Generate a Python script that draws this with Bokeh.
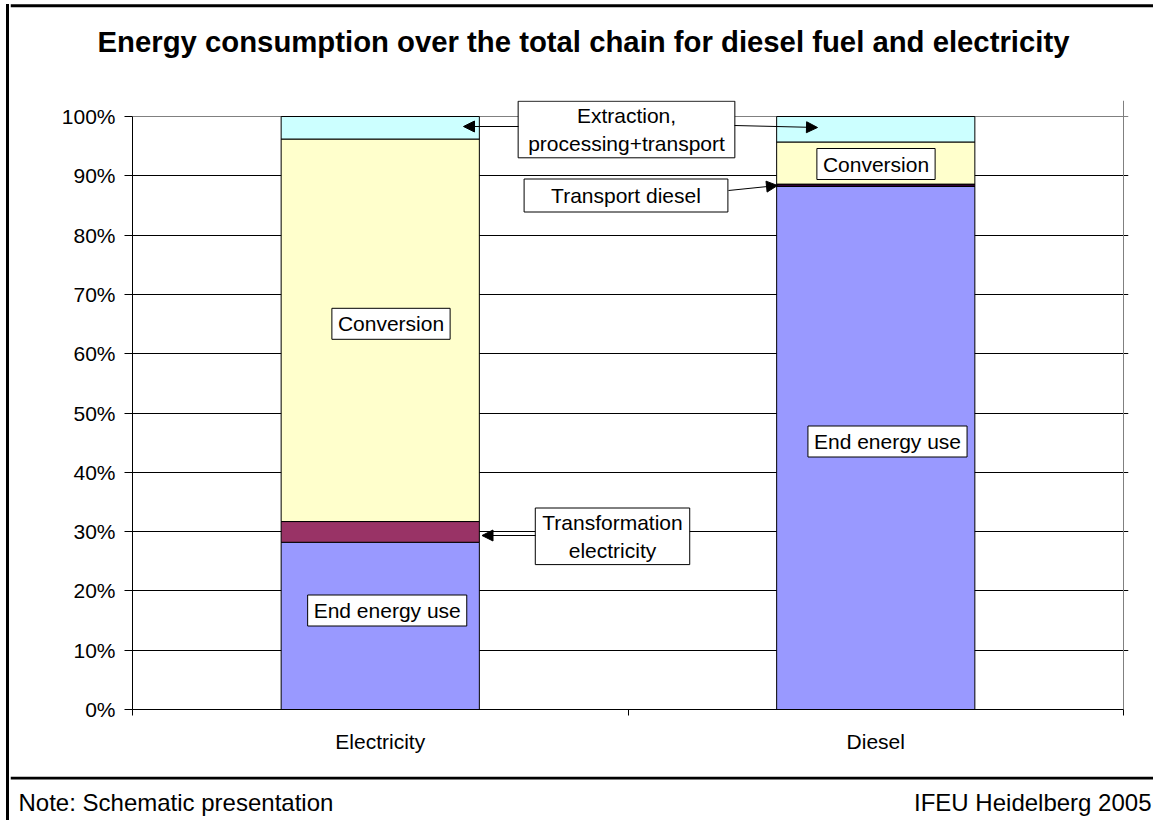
from bokeh.plotting import figure
from bokeh.layouts import column, row
from bokeh.models import (ColumnDataSource, Range1d, LinearAxis, FixedTicker, PrintfTickFormatter,
                          CustomJSTickFormatter, Grid, Label, Arrow, NormalHead, Span, Div)
from bokeh.embed import file_html
from bokeh.resources import INLINE

# ---------------- data ----------------
categories = ["Electricity", "Diesel"]
end_energy_use = [28.2, 88.2]
transformation_electricity = [3.5, 0.0]
transport_diesel = [0.0, 0.4]
conversion = [64.5, 7.1]
extraction_processing_transport = [3.8, 4.3]
y_ticks = list(range(0, 101, 10))

series = ["end_energy_use", "transformation_electricity", "transport_diesel",
          "conversion", "extraction_processing_transport"]
colors = ["#9999FF", "#993366", "#330033", "#FFFFCC", "#CCFFFF"]

title_text = "Energy consumption over the total chain for diesel fuel and electricity"
note_text = "Note: Schematic presentation"
source_text = "IFEU Heidelberg 2005"

n = len(categories)
centers = [i + 0.5 for i in range(n)]
bounds = list(range(n + 1))

source = ColumnDataSource(dict(
    x=centers,
    end_energy_use=end_energy_use,
    transformation_electricity=transformation_electricity,
    transport_diesel=transport_diesel,
    conversion=conversion,
    extraction_processing_transport=extraction_processing_transport,
))

FONT = "Liberation Sans"
PAGE_W, PAGE_H = 1153, 820

# page geometry
LEFT = 10               # left border bar (6px margin + 3px line + 1px gap)
HEADER_H = 100          # header (title, top border)
MAIN_BOTTOM = 776       # separator line between chart and footer
FOOTER_H = 43
FL, FR, FT, FB = 132, 1123, 116, 709   # plot area (0..n, 0..100%) in page pixels
FRAME_R = 1128          # drawn frame right edge (a bit beyond the plot area)
CONTENT_W = PAGE_W - LEFT

def X(px):
    return (px - FL) / (FR - FL) * n

def Y(py):
    return (FB - py) / (FB - FT) * 100.0

BORDER_W = 3

# ---------------- left border ----------------
left_bar = Div(text="", width=BORDER_W, height=PAGE_H - 4, margin=(4, 1, 0, 6),
               styles={"background-color": "black"})

# ---------------- header ----------------
header = figure(width=CONTENT_W, height=HEADER_H, x_range=Range1d(LEFT, PAGE_W), y_range=Range1d(HEADER_H, 0),
                x_axis_type=None, y_axis_type=None, output_backend="svg", toolbar_location=None,
                min_border=0, title=None)
header.outline_line_color = None
header.add_layout(Span(location=5.3, dimension="width", line_color="black", line_width=BORDER_W))
header.add_layout(Label(x=583, y=41, text=title_text, text_align="center", text_baseline="middle",
                        text_font=FONT, text_font_size="29.3px", text_font_style="bold", text_color="black"))

# ---------------- main chart ----------------
main_h = MAIN_BOTTOM - HEADER_H
p = figure(width=CONTENT_W, height=main_h,
           x_range=Range1d(0, X(FRAME_R)), y_range=Range1d(0, Y(HEADER_H)),
           x_axis_type=None, y_axis_type=None, output_backend="svg",
           toolbar_location=None, title=None,
           min_border_left=FL - LEFT, min_border_right=PAGE_W - FRAME_R,
           min_border_top=0, min_border_bottom=MAIN_BOTTOM - FB)
p.background_fill_color = "white"
p.border_fill_color = "white"
p.outline_line_color = None

yaxis = LinearAxis(ticker=FixedTicker(ticks=y_ticks), formatter=PrintfTickFormatter(format="%d%%"),
                   bounds=(0, 100))
yaxis.major_tick_out = 8
yaxis.major_tick_in = 0
yaxis.minor_tick_out = 0
yaxis.minor_tick_in = 0
yaxis.major_label_standoff = 9
yaxis.major_label_text_font = FONT
yaxis.major_label_text_font_size = "21px"
yaxis.major_label_text_color = "black"
yaxis.axis_line_color = "black"
yaxis.major_tick_line_color = "black"
p.add_layout(yaxis, "left")

xaxis = LinearAxis(ticker=FixedTicker(ticks=centers, minor_ticks=bounds),
                   formatter=CustomJSTickFormatter(args=dict(labels=categories),
                                                   code="return labels[Math.floor(tick)]"),
                   bounds=(0, n))
xaxis.major_tick_out = 0
xaxis.major_tick_in = 0
xaxis.minor_tick_out = 6
xaxis.minor_tick_in = 0
xaxis.minor_tick_line_color = "black"
xaxis.major_label_standoff = 14
xaxis.major_label_text_font = FONT
xaxis.major_label_text_font_size = "21px"
xaxis.major_label_text_color = "black"
xaxis.axis_line_color = "black"
p.add_layout(xaxis, "below")

p.add_layout(Grid(dimension=1, ticker=FixedTicker(ticks=y_ticks[1:-1]), bounds=(0, n),
                  grid_line_color="black", grid_line_width=1))
p.add_layout(Grid(dimension=1, ticker=FixedTicker(ticks=[y_ticks[-1]]), bounds=(0, n),
                  grid_line_color="#808080", grid_line_width=1))
p.add_layout(Grid(dimension=0, ticker=FixedTicker(ticks=[n]), bounds=(0, y_ticks[-1]),
                  grid_line_color="#808080", grid_line_width=1))

p.vbar_stack(series, x="x", width=0.4, source=source, fill_color=colors,
             line_color="black", line_width=1)

def box(text, cx, cy, pad):
    p.add_layout(Label(x=X(cx), y=Y(cy), text=text, text_align="center", text_baseline="middle",
                       text_font=FONT, text_font_size="21px", text_color="black",
                       background_fill_color="white", border_line_color="black",
                       border_line_width=1, padding=pad))

box("Extraction,\nprocessing+transport", 626, 129, (10, 3))
box("Transport diesel", 625.5, 195, (27, 5))
box("Conversion", 875.5, 163.5, (6, 4))
box("Conversion", 390.5, 323.3, (6, 4))
box("Transformation\nelectricity", 612, 535.8, (7, 3))
box("End energy use", 386.7, 610, (6, 4))
box("End energy use", 887, 441, (6, 4))

def arrow(x0, y0, x1, y1):
    p.add_layout(Arrow(x_start=X(x0), y_start=Y(y0), x_end=X(x1), y_end=Y(y1),
                       line_color="black", line_width=1,
                       end=NormalHead(size=11, fill_color="black", line_color="black")))

arrow(518, 126, 463, 126)
arrow(734, 125, 817, 127)
arrow(728, 190, 777, 185)
arrow(535, 535, 481.5, 535)

# ---------------- footer ----------------
footer = figure(width=CONTENT_W, height=FOOTER_H, x_range=Range1d(LEFT, PAGE_W), y_range=Range1d(FOOTER_H, 0),
                x_axis_type=None, y_axis_type=None, output_backend="svg", toolbar_location=None,
                min_border=0, title=None)
footer.outline_line_color = None
footer.add_layout(Span(location=1.5, dimension="width", line_color="black", line_width=BORDER_W))
footer.add_layout(Label(x=18, y=26, text=note_text, text_align="left", text_baseline="middle",
                        text_font=FONT, text_font_size="24px", text_color="black"))
footer.add_layout(Label(x=1151, y=26, text=source_text, text_align="right", text_baseline="middle",
                        text_font=FONT, text_font_size="24px", text_color="black"))

# the chart sits in its own row so that the header and footer keep their full-width frames
layout = row(left_bar, column(header, row(p, spacing=0), footer, spacing=0), spacing=0)

open("out.html", "w").write(file_html(layout, INLINE))
